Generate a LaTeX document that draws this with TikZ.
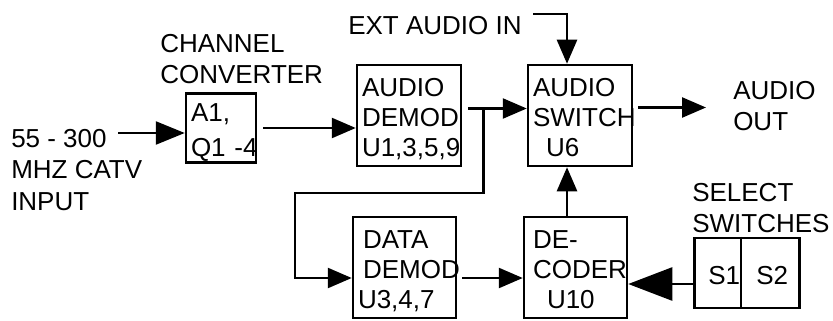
\documentclass[tikz,border=0pt]{standalone}
\usepackage{fontspec}
\setmainfont{Liberation Sans}
\usetikzlibrary{arrows.meta}
\hyphenpenalty=10000
\exhyphenpenalty=10000

\begin{document}
\begin{tikzpicture}[x=1pt,y=-1pt,>={Triangle[length=24pt,width=20pt]},
  line width=2.5pt,font=\fontsize{26}{31.5}\selectfont,
  blk/.style={draw,align=left,inner xsep=5pt,inner ysep=0pt,text width=94pt,
    minimum height=101pt,font=\fontsize{26}{30}\selectfont,
    execute at begin node=\rule{0pt}{28pt},
    execute at end node=\rule[-6pt]{0pt}{0pt}},
  lbl/.style={align=left,inner sep=0pt,anchor=north west}]
\useasboundingbox (0,0) rectangle (833,321);
\node[lbl] (inp) at (10,128) {55 - 300\\MHZ CATV\\INPUT};
\node[lbl] (convlbl) at (159,33) {CHANNEL\\CONVERTER};
\node[lbl] (ext) at (347,15) {EXT AUDIO IN};
\node[lbl] (out) at (732,80) {AUDIO\\OUT};
\node[lbl] (sellbl) at (691,182) {SELECT\\SWITCHES};
\node[blk,text width=60pt,minimum height=68pt,font=\fontsize{26}{35}\selectfont] (conv) at (221,128) {A1,\\Q1~-4};
\node[blk] (ademod) at (409,115.5) {AUDIO\\DEMOD\\U1,3,5,9};
\node[blk] (aswitch) at (580,115.5) {AUDIO\\SWITCH\\\hspace*{13pt}U6};
\node[blk,text width=93pt] (ddemod) at (404.5,267.5) {\hspace*{5pt}DATA\\\hspace*{5pt}DEMOD\\U3,4,7};
\node[blk,text width=93pt] (dec) at (575.5,267.5) {\hspace*{4pt}DE-\\\hspace*{4pt}CODER\\\hspace*{18pt}U10};
\node[draw,minimum width=105pt,minimum height=70pt] (sel) at (747,273) {};
\draw ([xshift=-6pt]sel.north) -- ([xshift=-6pt]sel.south);
\node[lbl] (s1) at (707,265) {S1};
\node[lbl] (s2) at (755,265) {S2};
\coordinate (in0) at (118,133);
\draw[-{Triangle[length=29pt,width=23pt]}] (in0) -- (conv.west |- in0);
\draw[->] ([xshift=6pt]conv.east) -- (ademod.west |- conv.east);
\draw[->] ([xshift=6pt,yshift=7pt]ademod.east) -- ([yshift=7pt]aswitch.west);
\coordinate (br) at ([xshift=21pt,yshift=7pt]ademod.east);
\draw[->] (br) |- (295,193) |- ([yshift=-10.5pt]ddemod.west);
\draw[->] ([xshift=5pt,yshift=-10.5pt]ddemod.east) -- ([yshift=-10.5pt]dec.west);
\draw[->] ([xshift=-8.5pt]dec.north) -- ([xshift=-13pt]aswitch.south);
\coordinate (e0) at (533,14);
\draw[->] (e0) -| ([xshift=-13pt]aswitch.north);
\coordinate (o0) at (706,107.5);
\draw[->] ([xshift=5pt,yshift=8pt]aswitch.east) -- (o0);
\coordinate (s0) at ([yshift=-11pt]sel.west);
\draw[-{Triangle[length=44pt,width=33pt]}] (s0) -- (dec.east |- s0);
\end{tikzpicture}
\end{document}
